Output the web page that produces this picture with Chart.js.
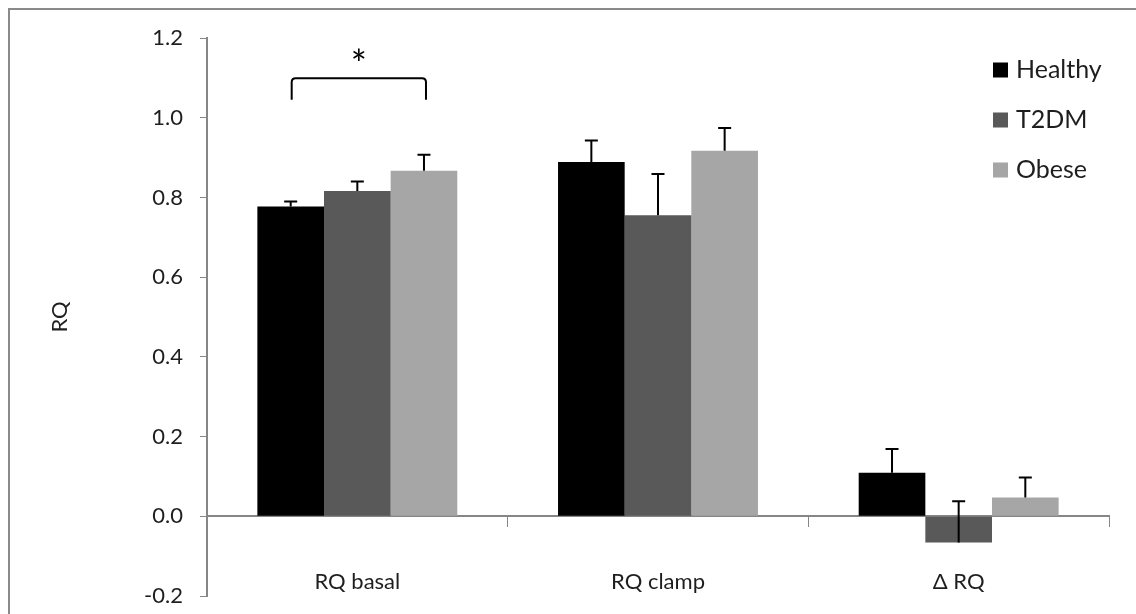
<!DOCTYPE html>
<html>
<head>
<meta charset="utf-8">
<script src="https://cdn.jsdelivr.net/npm/chart.js@4"></script>
<style>
    body { margin: 0; background: #fff; }
    #wrap { width: 1136px; height: 614px; position: relative; }
</style>
</head>
<body>
<div id="wrap"><canvas id="rqChart" width="1136" height="614"></canvas></div>
<script>
const categories = ["RQ basal", "RQ clamp", "\u0394 RQ"];
const groups = ["Healthy", "T2DM", "Obese"];
const healthyValues = [0.777, 0.889, 0.109];
const t2dmValues = [0.816, 0.755, -0.066];
const obeseValues = [0.867, 0.917, 0.047];
// upper error bar lengths (SEM)
const healthyErr = [0.013, 0.054, 0.060];
const t2dmErr = [0.024, 0.104, 0.104];
const obeseErr = [0.040, 0.057, 0.050];
const groupColors = ["#000000", "#595959", "#a6a6a6"];
const yTicks = [-0.2, 0.0, 0.2, 0.4, 0.6, 0.8, 1.0, 1.2];

const fontFamily = "Lato, 'Open Sans', sans-serif";
const textColor = "#1e1e1e";
const axisColor = "#868686";

// whisker pointing up from each bar value
const errorBars = {
    id: "errorBars",
    afterDatasetsDraw(chart) {
        const ctx = chart.ctx;
        const y = chart.scales.y;
        ctx.save();
        ctx.strokeStyle = "#000";
        ctx.lineWidth = 2;
        chart.data.datasets.forEach((ds, i) => {
            chart.getDatasetMeta(i).data.forEach((bar, j) => {
                const top = y.getPixelForValue(ds.data[j] + ds.errors[j]);
                ctx.beginPath();
                ctx.moveTo(bar.x, bar.y);
                ctx.lineTo(bar.x, top);
                ctx.moveTo(bar.x - 6.5, top);
                ctx.lineTo(bar.x + 6.5, top);
                ctx.stroke();
            });
        });
        ctx.restore();
    }
};

// significance bracket between Healthy and Obese, basal
const bracket = {
    id: "bracket",
    afterDatasetsDraw(chart) {
        const ctx = chart.ctx;
        const y = chart.scales.y;
        const x1 = chart.getDatasetMeta(0).data[0].x + 1;
        const x2 = chart.getDatasetMeta(2).data[0].x + 2;
        const yTop = y.getPixelForValue(1.099);
        const yEnd = y.getPixelForValue(1.045);
        const r = 4;
        ctx.save();
        ctx.strokeStyle = "#000";
        ctx.lineWidth = 2;
        ctx.beginPath();
        ctx.moveTo(x1, yEnd);
        ctx.lineTo(x1, yTop + r);
        ctx.quadraticCurveTo(x1, yTop, x1 + r, yTop);
        ctx.lineTo(x2 - r, yTop);
        ctx.quadraticCurveTo(x2, yTop, x2, yTop + r);
        ctx.lineTo(x2, yEnd);
        ctx.stroke();
        ctx.fillStyle = "#000";
        ctx.font = "38px " + fontFamily;
        ctx.textAlign = "center";
        ctx.textBaseline = "middle";
        ctx.fillText("*", (x1 + x2) / 2, y.getPixelForValue(1.13));
        ctx.restore();
    }
};

// legend boxes stacked at the top right, plus the outer frame
const sideLegend = {
    id: "sideLegend",
    afterDraw(chart) {
        const ctx = chart.ctx;
        const area = chart.chartArea;
        ctx.save();
        ctx.font = "25px " + fontFamily;
        ctx.textBaseline = "middle";
        ctx.textAlign = "left";
        chart.data.datasets.forEach((ds, i) => {
            const cy = area.top + 32 + i * 50;
            const bx = area.right - 116;
            ctx.fillStyle = ds.backgroundColor;
            ctx.fillRect(bx, cy - 7.5, 15, 15);
            ctx.fillStyle = textColor;
            ctx.fillText(ds.label, bx + 23, cy);
        });
        ctx.strokeStyle = "#8a8a8a";
        ctx.lineWidth = 2;
        ctx.beginPath();
        ctx.moveTo(9, 614);
        ctx.lineTo(9, 9);
        ctx.lineTo(1136, 9);
        ctx.stroke();
        ctx.restore();
    }
};

const series = [healthyValues, t2dmValues, obeseValues];
const errs = [healthyErr, t2dmErr, obeseErr];

new Chart(document.getElementById("rqChart"), {
    type: "bar",
    data: {
        labels: categories,
        datasets: groups.map((g, i) => ({
            label: g,
            data: series[i],
            errors: errs[i],
            backgroundColor: groupColors[i],
            categoryPercentage: 0.665,
            barPercentage: 1.0
        }))
    },
    options: {
        responsive: false,
        animation: false,
        layout: { padding: { left: 0, right: 27, top: 38, bottom: 18 } },
        plugins: {
            legend: { display: false },
            tooltip: { enabled: false }
        },
        scales: {
            x: {
                position: { y: 0 },
                afterFit(scale) { scale.height = 0; },
                grid: { offset: true, drawOnChartArea: false, drawTicks: true, tickLength: 10, color: axisColor },
                border: { color: axisColor, width: 2 },
                ticks: { color: textColor, font: { family: fontFamily, size: 22 }, padding: 42 }
            },
            y: {
                min: -0.2,
                max: 1.2,
                afterFit(scale) {
                    scale.width = 207;
                    scale.paddingTop = 0;
                    scale.paddingBottom = 0;
                },
                afterBuildTicks(scale) { scale.ticks = yTicks.map(v => ({ value: v })); },
                grid: { drawOnChartArea: false, drawTicks: true, tickLength: 7, color: axisColor },
                border: { color: axisColor, width: 2 },
                ticks: {
                    color: textColor,
                    font: { family: fontFamily, size: 22 },
                    padding: 17,
                    callback: v => v.toFixed(1)
                },
                title: {
                    display: true,
                    text: "RQ",
                    color: textColor,
                    font: { family: fontFamily, size: 22 },
                    padding: { top: 47, bottom: 0 }
                }
            }
        }
    },
    plugins: [errorBars, bracket, sideLegend]
});
</script>
</body>
</html>
